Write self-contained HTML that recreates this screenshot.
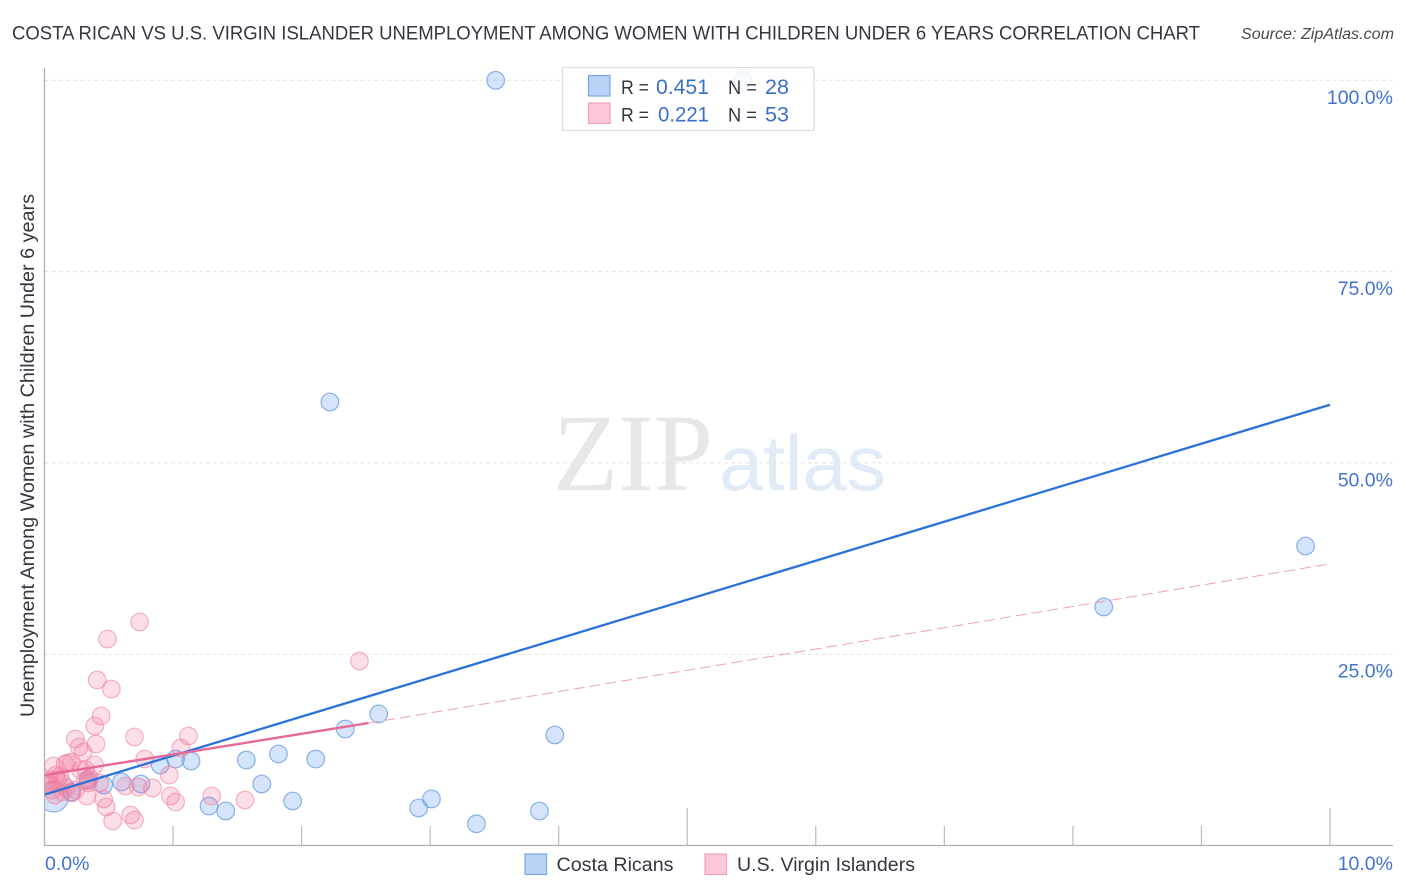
<!DOCTYPE html>
<html lang="en">
<head>
<meta charset="utf-8">
<title>Costa Rican vs U.S. Virgin Islander Unemployment Correlation Chart</title>
<style>
html,body{margin:0;padding:0;background:#fff;width:1406px;height:892px;overflow:hidden}
svg{display:block}
text{font-family:"Liberation Sans",sans-serif}
</style>
</head>
<body>
<svg id="chart" xmlns="http://www.w3.org/2000/svg" width="1406" height="892" viewBox="0 0 1406 892">
  <defs>
    <clipPath id="plot-clip"><rect x="45" y="60" width="1350" height="786"/></clipPath>
  </defs>
  <text x="12" y="39.5" font-size="19" fill="#333740" textLength="1188" lengthAdjust="spacingAndGlyphs">COSTA RICAN VS U.S. VIRGIN ISLANDER UNEMPLOYMENT AMONG WOMEN WITH CHILDREN UNDER 6 YEARS CORRELATION CHART</text>
  <text x="1241" y="39" font-size="15.5" font-style="italic" fill="#4a4a4a" textLength="153" lengthAdjust="spacingAndGlyphs">Source: ZipAtlas.com</text>
  <text transform="translate(34,717) rotate(-90)" x="0" y="0" font-size="19" fill="#333740" textLength="523" lengthAdjust="spacingAndGlyphs">Unemployment Among Women with Children Under 6 years</text>
  <g>
    <text x="553" y="490" font-size="110" fill="#e7e7e7" textLength="160" lengthAdjust="spacingAndGlyphs" style="font-family:'Liberation Serif',serif">ZIP</text>
    <text x="719" y="490" font-size="78" fill="#e1ebf8" textLength="167" lengthAdjust="spacingAndGlyphs">atlas</text>
  </g>
  <g id="grid-layer"></g>
  <g id="axis-layer"></g>
  <g id="blue-points" clip-path="url(#plot-clip)"></g>
  <g id="pink-points" clip-path="url(#plot-clip)"></g>
  <g id="trend-layer" clip-path="url(#plot-clip)"></g>
  <g>
    <rect x="562.5" y="67.5" width="251.5" height="63" fill="#fff" fill-opacity="0.85" stroke="#ddd" stroke-width="1.2"/>
    <rect x="588.5" y="75.5" width="21.5" height="20.5" fill="#b8d3f6" stroke="#7ba7dc" stroke-width="1.2"/>
    <rect x="588.5" y="103" width="21.5" height="20.5" fill="#fcc8d8" stroke="#f0a0b8" stroke-width="1.2"/>
    <text x="621" y="94" font-size="19" fill="#333740" textLength="28" lengthAdjust="spacingAndGlyphs">R =</text>
    <text x="656" y="94" font-size="21" fill="#3b6fc9" textLength="53" lengthAdjust="spacingAndGlyphs">0.451</text>
    <text x="728" y="94" font-size="19" fill="#333740" textLength="29" lengthAdjust="spacingAndGlyphs">N =</text>
    <text x="765" y="94" font-size="21" fill="#3b6fc9" textLength="24" lengthAdjust="spacingAndGlyphs">28</text>
    <text x="621" y="121.5" font-size="19" fill="#333740" textLength="28" lengthAdjust="spacingAndGlyphs">R =</text>
    <text x="658" y="121.5" font-size="21" fill="#3b6fc9" textLength="51" lengthAdjust="spacingAndGlyphs">0.221</text>
    <text x="728" y="121.5" font-size="19" fill="#333740" textLength="29" lengthAdjust="spacingAndGlyphs">N =</text>
    <text x="765" y="121.5" font-size="21" fill="#3b6fc9" textLength="24" lengthAdjust="spacingAndGlyphs">53</text>
  </g>
  <g>
    <g>
      <rect x="525" y="854" width="21.5" height="20.5" fill="#b8d3f6" stroke="#7ba7dc" stroke-width="1.2"/>
      <text x="556.5" y="871" font-size="19" fill="#333740" textLength="117" lengthAdjust="spacingAndGlyphs">Costa Ricans</text>
    </g>
    <g>
      <rect x="705" y="854" width="21.5" height="20.5" fill="#fcc8d8" stroke="#f0a0b8" stroke-width="1.2"/>
      <text x="737" y="871" font-size="19" fill="#333740" textLength="178" lengthAdjust="spacingAndGlyphs">U.S. Virgin Islanders</text>
    </g>
  </g>
</svg>
<script>
const yTickValues = [25, 50, 75, 100];
const yTickLabels = ['25.0%', '50.0%', '75.0%', '100.0%'];
const xTickValues = [1, 2, 3, 4, 5, 6, 7, 8, 9, 10];
const xEndValues = [0, 10];
const xEndLabels = ['0.0%', '10.0%'];

const blueX = [3.51, 5.43, 2.22, 9.81, 8.24, 2.60, 2.34, 3.97, 1.82, 2.11, 1.57, 1.14, 1.02, 0.90, 1.69, 0.75, 0.60, 0.46, 0.34, 1.93, 3.01, 1.28, 1.41, 2.91, 3.85, 3.36, 0.21, 0.07];
const blueY = [100, 100, 57.96, 39.14, 31.17, 17.19, 15.22, 14.44, 11.96, 11.30, 11.17, 11.04, 11.30, 10.52, 8.04, 8.04, 8.30, 7.91, 8.56, 5.82, 6.08, 5.16, 4.51, 4.90, 4.51, 2.84, 6.99, 6.34];
const blueWeight = [1, 1, 1, 1, 1, 1, 1, 1, 1, 1, 1, 1, 1, 1, 1, 1, 1, 1, 1, 1, 1, 1, 1, 1, 1, 1, 1, 1.7];

const pinkX = [0.74, 0.49, 2.45, 0.41, 0.52, 0.44, 0.39, 0.24, 0.40, 0.27, 0.30, 0.70, 1.12, 1.06, 0.78, 0.39, 0.21, 0.16, 0.18, 0.07, 0.97, 0.84, 0.63, 0.73, 0.98, 1.02, 1.30, 1.56, 0.46, 0.48, 0.53, 0.67, 0.70, 0.33, 0.34, 0.32, 0.35, 0.28, 0.04, 0.04, 0.06, 0.09, 0.10, 0.14, 0.12, 0.21, 0.17, 0.03, 0.43, 0.32, 0.24, 0.08, 0.14];
const pinkY = [29.21, 26.99, 24.11, 21.63, 20.45, 16.92, 15.62, 13.92, 13.26, 12.87, 12.22, 14.18, 14.31, 12.74, 11.30, 10.52, 10.91, 10.65, 10.78, 10.39, 9.21, 7.51, 7.78, 7.64, 6.47, 5.68, 6.47, 5.95, 6.08, 5.03, 3.20, 3.99, 3.33, 6.47, 8.17, 8.43, 8.82, 9.87, 7.91, 8.56, 7.25, 9.21, 8.56, 8.17, 9.08, 6.86, 7.51, 8.17, 8.17, 9.87, 7.25, 6.60, 7.00];

const blueTrendX = [0, 10];
const blueTrendY = [6.65, 57.6];
const pinkTrendSolidX = [0, 2.52];
const pinkTrendSolidY = [9.2, 16.0];
const pinkTrendDashX = [2.52, 10];
const pinkTrendDashY = [16.0, 36.8];

const NS = 'http://www.w3.org/2000/svg';
function xScale(v) { return 44.5 + v * 128.55; }
function yScale(v) { return 845.5 - v * 7.652; }

function make(tag, parent, attrs, text) {
  const el = document.createElementNS(NS, tag);
  for (const k in attrs) el.setAttribute(k, attrs[k]);
  if (text !== undefined) el.textContent = text;
  parent.appendChild(el);
  return el;
}

const gridLayer = document.getElementById('grid-layer');
const axisLayer = document.getElementById('axis-layer');
const bluePoints = document.getElementById('blue-points');
const pinkPoints = document.getElementById('pink-points');
const trendLayer = document.getElementById('trend-layer');

yTickValues.forEach(function (v, i) {
  const line = make('line', gridLayer, { x1: 45, x2: 1393, y1: yScale(v), y2: yScale(v), stroke: '#e2e2e2', 'stroke-width': 1, 'stroke-dasharray': '4 3' });
  
  
  const label = make('text', axisLayer, { x: 1393, y: yScale(v) + 23.5, 'text-anchor': 'end', 'font-size': 19.5, fill: '#4274cc' }, yTickLabels[i]);
  
  
});

const yAxisLine = make('line', axisLayer, { x1: 44.5, x2: 44.5, y1: 68, y2: 846, stroke: '#b0b0b0', 'stroke-width': 1.3 });


const xAxisLine = make('line', axisLayer, { x1: 44, x2: 1393, y1: 845.5, y2: 845.5, stroke: '#b0b0b0', 'stroke-width': 1.3 });



xTickValues.forEach(function (v) {
  const top = v % 5 === 0 ? 808 : 826;
  const tick = make('line', axisLayer, { x1: xScale(v), x2: xScale(v), y1: top, y2: 845.5, stroke: '#bbb', 'stroke-width': 1.2 });
  
  
});

xEndValues.forEach(function (v, i) {
  const label = make('text', axisLayer, { x: i === 0 ? 45 : 1393, y: 870, 'text-anchor': i === 0 ? 'start' : 'end', 'font-size': 19.5, fill: '#4274cc' }, xEndLabels[i]);
  
  
});

blueX.forEach(function (v, i) {
  const c = make('circle', bluePoints, { cx: xScale(v), cy: yScale(blueY[i]), r: 8.8 * blueWeight[i], fill: '#5a96ea', 'fill-opacity': 0.26, stroke: '#6f9fe0', 'stroke-opacity': 0.8, 'stroke-width': 1.2 });
  
  
});

pinkX.forEach(function (v, i) {
  const c = make('circle', pinkPoints, { cx: xScale(v), cy: yScale(pinkY[i]), r: 8.8, fill: '#f3779b', 'fill-opacity': 0.24, stroke: '#f08aa8', 'stroke-opacity': 0.65, 'stroke-width': 1.2 });
  
  
});

const blueTrend = make('line', trendLayer, { x1: xScale(blueTrendX[0]), y1: yScale(blueTrendY[0]), x2: xScale(blueTrendX[1]), y2: yScale(blueTrendY[1]), stroke: '#2b72d7', 'stroke-width': 2.3 });


const pinkSolid = make('line', trendLayer, { x1: xScale(pinkTrendSolidX[0]), y1: yScale(pinkTrendSolidY[0]), x2: xScale(pinkTrendSolidX[1]), y2: yScale(pinkTrendSolidY[1]), stroke: '#e8689a', 'stroke-width': 2.4 });


const pinkDash = make('line', trendLayer, { x1: xScale(pinkTrendDashX[0]), y1: yScale(pinkTrendDashY[0]), x2: xScale(pinkTrendDashX[1]), y2: yScale(pinkTrendDashY[1]), stroke: '#eea0b8', 'stroke-width': 1, 'stroke-dasharray': '11 5' });


</script>
</body>
</html>
